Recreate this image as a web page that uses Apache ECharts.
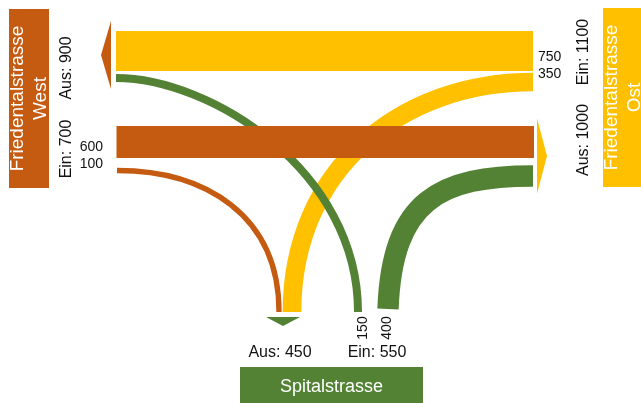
<!DOCTYPE html>
<html><head><meta charset="utf-8">
<script src="https://cdn.jsdelivr.net/npm/echarts@6/dist/echarts.min.js"></script>
<style>html,body{margin:0;padding:0;background:#fff}#c{width:641px;height:403px}</style>
</head><body><div id="c"></div>
<script>
// ---------------- data ----------------
const roadNames = ['Friedentalstrasse\nWest', 'Friedentalstrasse\nOst', 'Spitalstrasse'];
const roadEin = [700, 1100, 550];   // vehicles entering the junction from each road
const roadAus = [900, 1000, 450];   // vehicles leaving the junction into each road
const flowFrom = [1, 0, 1, 0, 2, 2]; // index into roadNames
const flowTo   = [0, 1, 2, 2, 0, 1];
const flowValues = [750, 600, 350, 100, 150, 400];

// ---------------- layout / style ----------------
const COLORS = ['#C55A11', '#FFC000', '#548235'];
const UNIT = 40 / 750;           // px per vehicle (band width)
const ARROW_K = 1.42;            // arrow length relative to Aus band width
const FONT = '"Liberation Sans", Arial, Helvetica, sans-serif';
const TEXT = '#111';

// centre-line of every band: start, control1, control2, end (chart px coords)
const FLOW_PATH = [
  [[533, 51], [400, 51], [250, 51], [116, 51]],
  [[116.5, 142], [250, 142], [400, 142], [534, 142]],
  [[533, 82], [400, 82], [292, 170], [292, 312]],
  [[117, 170.5], [205, 170.5], [279, 215], [279, 312]],
  [[358, 312], [358, 170], [210, 78], [116, 78]],
  [[388, 309], [392, 200], [440, 176], [533, 176]]
];
const FLOW_Z = [20, 20, 5, 6, 10, 8];
const FLOW_LABEL = [
  {x: 538, y: 57, align: 'left', rot: 0},
  {x: 103, y: 147, align: 'right', rot: 0},
  {x: 538, y: 74, align: 'left', rot: 0},
  {x: 103, y: 164, align: 'right', rot: 0},
  {x: 363, y: 328, align: 'center', rot: 90},
  {x: 387.5, y: 328, align: 'center', rot: 90}
];
const ROAD_LAYOUT = [
  {box: [9, 9, 40, 179], nameRot: 90, nameSize: 19,
   aus: {x: 67, y: 68, rot: 90}, ein: {x: 67, y: 149, rot: 90},
   arrow: {dir: 'left', base: 111, tip: 101, c: 55}},
  {box: [603, 8, 40, 179], nameRot: 90, nameSize: 19,
   aus: {x: 584, y: 140, rot: 90}, ein: {x: 584, y: 52, rot: 90},
   arrow: {dir: 'right', base: 537, tip: 547, c: 156}},
  {box: [240, 367, 183, 40], nameRot: 0, nameSize: 18,
   aus: {x: 280, y: 353, rot: 0}, ein: {x: 377, y: 353, rot: 0},
   arrow: {dir: 'down', base: 317, tip: 326, c: 283}}
];

function txt(api, pos, s, size, color, align, rot, lh) {
  const p = api.coord([pos[0], pos[1]]);
  return {
    type: 'text', x: p[0], y: p[1], rotation: (rot || 0) * Math.PI / 180, z2: 50,
    style: {text: s, align: align || 'center', verticalAlign: 'middle', fill: color,
            font: size + 'px ' + FONT, lineHeight: lh || Math.round(size * 1.2)}
  };
}

function renderFlow(params, api) {
  const i = api.value(0), v = api.value(1);
  const p = FLOW_PATH[i].map(pt => api.coord(pt));
  const w = api.size([0, v * UNIT])[1];
  const L = FLOW_LABEL[i];
  return {type: 'group', children: [
    {type: 'bezierCurve', z2: FLOW_Z[i],
     shape: {x1: p[0][0], y1: p[0][1], cpx1: p[1][0], cpy1: p[1][1],
             cpx2: p[2][0], cpy2: p[2][1], x2: p[3][0], y2: p[3][1]},
     style: {stroke: COLORS[flowFrom[i]], lineWidth: w, fill: null, lineCap: 'butt'}},
    txt(api, [L.x, L.y], String(v), 14, TEXT, L.align, L.rot)
  ]};
}

function renderRoad(params, api) {
  const i = api.value(0), ein = api.value(1), aus = api.value(2);
  const R = ROAD_LAYOUT[i];
  const b0 = api.coord([R.box[0], R.box[1]]);
  const bs = api.size([R.box[2], R.box[3]]);
  const half = api.size([0, aus * UNIT * ARROW_K / 2])[1];
  const A = R.arrow;
  let pts;
  if (A.dir === 'left' || A.dir === 'right') {
    pts = [[A.base, A.c - half], [A.tip, A.c], [A.base, A.c + half]];
  } else {
    pts = [[A.c - half, A.base], [A.c, A.tip], [A.c + half, A.base]];
  }
  pts = pts.map(pt => api.coord(pt));
  const cx = R.box[0] + R.box[2] / 2, cy = R.box[1] + R.box[3] / 2;
  return {type: 'group', children: [
    {type: 'rect', z2: 30, shape: {x: b0[0], y: b0[1], width: bs[0], height: bs[1]},
     style: {fill: COLORS[i]}},
    txt(api, [cx, cy], roadNames[i], R.nameSize, '#fff', 'center', R.nameRot, 23),
    {type: 'polygon', z2: 30, shape: {points: pts}, style: {fill: COLORS[i]}},
    txt(api, [R.aus.x, R.aus.y], 'Aus: ' + aus, 16, TEXT, 'center', R.aus.rot),
    txt(api, [R.ein.x, R.ein.y], 'Ein: ' + ein, 16, TEXT, 'center', R.ein.rot)
  ]};
}

const chart = echarts.init(document.getElementById('c'), null, {renderer: 'canvas'});
chart.setOption({
  animation: false,
  backgroundColor: '#fff',
  grid: {left: 0, right: 0, top: 0, bottom: 0},
  xAxis: {type: 'value', min: 0, max: 641, show: false},
  yAxis: {type: 'value', min: 0, max: 403, inverse: true, show: false},
  series: [
    {type: 'custom', name: 'flows', renderItem: renderFlow, clip: false, silent: true,
     data: flowValues.map((v, i) => [i, v, flowFrom[i], flowTo[i]])},
    {type: 'custom', name: 'roads', renderItem: renderRoad, clip: false, silent: true,
     data: roadEin.map((e, i) => [i, e, roadAus[i]])}
  ]
});
</script></body></html>
